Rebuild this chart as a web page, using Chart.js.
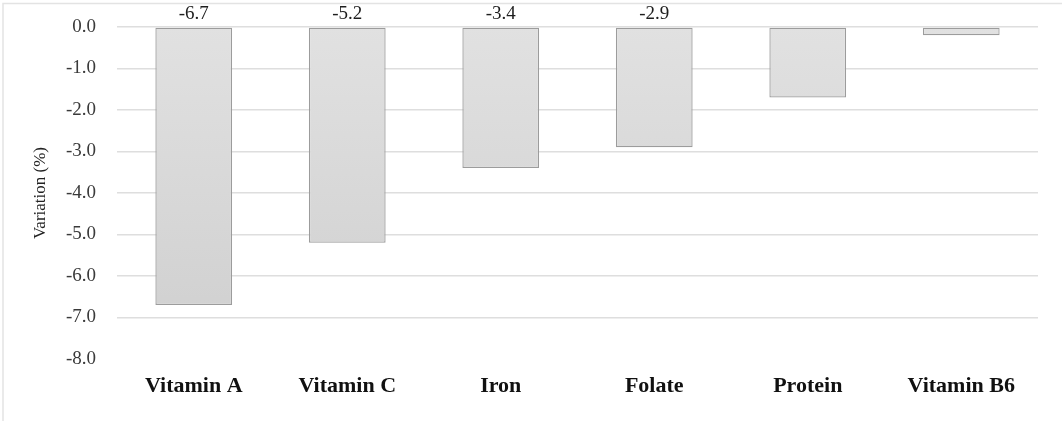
<!DOCTYPE html>
<html>
<head>
<meta charset="utf-8">
<script src="https://cdn.jsdelivr.net/npm/chart.js@4"></script>
<style>
html,body{margin:0;padding:0;background:#fff;}
#wrap{position:relative;width:1062px;height:421px;}
</style>
</head>
<body>
<div id="wrap"><canvas id="c" width="1062" height="421"></canvas></div>
<script>
const categories = ["Vitamin A", "Vitamin C", "Iron", "Folate", "Protein", "Vitamin B6"];
const variation = [-6.7, -5.2, -3.4, -2.9, -1.7, -0.2];
const shownLabels = ["-6.7", "-5.2", "-3.4", "-2.9", "", ""];
const yTickMin = -8.0;
const yTickMax = 0.0;
const yTickStep = 1.0;
const yAxisTitle = "Variation (%)";

const SERIF = '"Liberation Serif", "DejaVu Serif", serif';

const frame = {
  id: 'frame',
  beforeDraw(chart) {
    const ctx = chart.ctx;
    ctx.save();
    ctx.strokeStyle = '#e3e3e3';
    ctx.lineWidth = 1.5;
    ctx.beginPath();
    ctx.moveTo(3, 421);
    ctx.lineTo(3, 3.5);
    ctx.lineTo(1062, 3.5);
    ctx.stroke();
    ctx.restore();
  }
};

const topLabels = {
  id: 'topLabels',
  afterDatasetsDraw(chart) {
    const ctx = chart.ctx;
    const meta = chart.getDatasetMeta(0);
    const y0 = chart.scales.y.getPixelForValue(0);
    ctx.save();
    ctx.font = '19px ' + SERIF;
    ctx.fillStyle = '#1e1e1e';
    ctx.textAlign = 'center';
    ctx.textBaseline = 'alphabetic';
    meta.data.forEach((bar, i) => {
      if (shownLabels[i]) ctx.fillText(shownLabels[i], bar.x, y0 - 8);
    });
    ctx.restore();
  }
};

new Chart(document.getElementById('c'), {
  type: 'bar',
  data: {
    labels: categories,
    datasets: [{
      data: variation,
      backgroundColor(context) {
        const chart = context.chart;
        const area = chart.chartArea;
        if (!area) return '#d8d8d8';
        const g = chart.ctx.createLinearGradient(0, area.top, 0, chart.scales.y.getPixelForValue(-7));
        g.addColorStop(0, '#e1e1e1');
        g.addColorStop(1, '#d1d1d1');
        return g;
      },
      borderColor: '#9c9c9c',
      borderWidth: 1.3,
      borderSkipped: false,
      categoryPercentage: 1.0,
      barPercentage: 0.5
    }]
  },
  options: {
    responsive: false,
    animation: false,
    devicePixelRatio: 1,
    layout: { padding: { top: 27, right: 24, bottom: 12, left: 0 } },
    plugins: {
      legend: { display: false },
      tooltip: { enabled: false }
    },
    scales: {
      x: {
        grid: { display: false },
        border: { display: false },
        ticks: {
          color: '#111',
          padding: 6,
          font: { family: SERIF, size: 22, weight: 'bold' }
        },
        afterFit(scale) { scale.height = 50; }
      },
      y: {
        min: yTickMin,
        max: yTickMax,
        ticks: {
          stepSize: yTickStep,
          color: '#3a3a3a',
          padding: 21,
          font: { family: SERIF, size: 19 },
          callback(v) { return Number(v).toFixed(1); }
        },
        grid: {
          color(ctx) { return ctx.tick && ctx.tick.value === yTickMin ? 'rgba(0,0,0,0)' : '#dedede'; },
          lineWidth: 1.5,
          drawTicks: false
        },
        border: { display: false },
        title: {
          display: true,
          text: yAxisTitle,
          color: '#222',
          padding: { top: 30, bottom: 0 },
          font: { family: SERIF, size: 17 }
        },
        afterFit(scale) { scale.width = 117; scale.paddingTop = 0; scale.paddingBottom = 0; }
      }
    }
  },
  plugins: [frame, topLabels]
});
</script>
</body>
</html>
